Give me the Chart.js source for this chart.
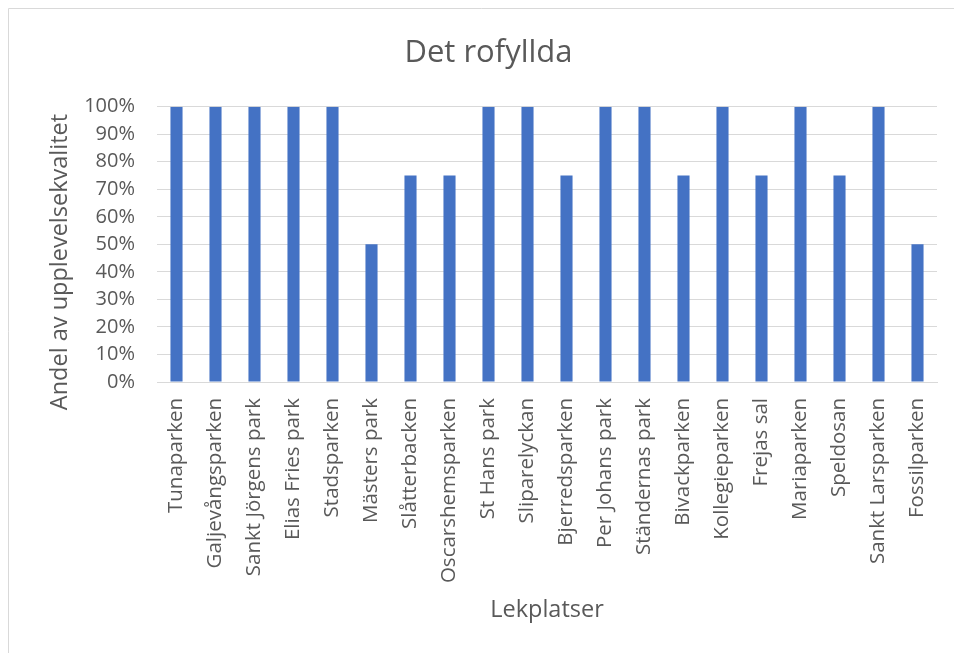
<!DOCTYPE html>
<html>
<head>
<meta charset="utf-8">
<script src="https://cdn.jsdelivr.net/npm/chart.js@4"></script>
<style>
  html, body { margin: 0; padding: 0; background: #fff; }
  #wrap { position: relative; width: 954px; height: 653px; }
</style>
</head>
<body>
<div id="wrap"><canvas id="chart"></canvas></div>
<script>
// data
const parks = [
    "Tunaparken", "Galjevångsparken", "Sankt Jörgens park", "Elias Fries park",
    "Stadsparken", "Mästers park", "Slåtterbacken", "Oscarshemsparken",
    "St Hans park", "Sliparelyckan", "Bjerredsparken", "Per Johans park",
    "Ständernas park", "Bivackparken", "Kollegieparken", "Frejas sal",
    "Mariaparken", "Speldosan", "Sankt Larsparken", "Fossilparken"
];
const shares = [100, 100, 100, 100, 100, 50, 75, 75, 100, 100, 75, 100, 100, 75, 100, 75, 100, 75, 100, 50];
const yTicks = [0, 10, 20, 30, 40, 50, 60, 70, 80, 90, 100];

const chartTitle = "Det rofyllda";
const xTitle = "Lekplatser";
const yTitle = "Andel av upplevelsekvalitet";

const textColor = "#595959";
const gridColor = "#d9d9d9";
const fontFamily = "'Open Sans', 'Noto Sans', sans-serif";

// outer chart border, open to the right and bottom like the cropped original
const frame = {
    id: "frame",
    beforeDraw(chart) {
        const ctx = chart.ctx;
        ctx.save();
        ctx.strokeStyle = gridColor;
        ctx.lineWidth = 1;
        ctx.beginPath();
        ctx.moveTo(8.5, 660);
        ctx.lineTo(8.5, 8.5);
        ctx.lineTo(960, 8.5);
        ctx.stroke();
        ctx.restore();
    }
};

// y axis title sits a little below the plot centre in the original
const yAxisTitle = {
    id: "yAxisTitle",
    afterDraw(chart) {
        const ctx = chart.ctx;
        ctx.save();
        ctx.translate(60, 262);
        ctx.rotate(-Math.PI / 2);
        ctx.fillStyle = textColor;
        ctx.font = "23.5px " + fontFamily;
        ctx.textAlign = "center";
        ctx.textBaseline = "middle";
        ctx.fillText(yTitle, 0, 0);
        ctx.restore();
    }
};

const ctx = document.getElementById("chart").getContext("2d");
new Chart(ctx, {
    type: "bar",
    data: {
        labels: parks,
        datasets: [{
            data: shares,
            backgroundColor: "#4472C4",
            borderWidth: 0,
            categoryPercentage: 1,
            barPercentage: 0.31
        }]
    },
    options: {
        responsive: true,
        maintainAspectRatio: false,
        animation: false,
        layout: { padding: { left: 40, right: 17, top: 0, bottom: 29 } },
        plugins: {
            legend: { display: false },
            tooltip: { enabled: false },
            title: {
                display: true,
                text: chartTitle,
                color: textColor,
                font: { family: fontFamily, size: 31, weight: "normal" },
                padding: { top: 35, bottom: 34.5 }
            }
        },
        scales: {
            x: {
                grid: { display: false, drawTicks: false },
                border: { color: gridColor, width: 1 },
                ticks: {
                    color: textColor,
                    font: { family: fontFamily, size: 20.5 },
                    minRotation: 90,
                    maxRotation: 90,
                    autoSkip: false,
                    padding: 16
                },
                title: {
                    display: true,
                    text: xTitle,
                    color: textColor,
                    font: { family: fontFamily, size: 23.5 },
                    padding: 0
                },
                afterFit(scale) {
                    scale.height = 242;
                    scale.paddingLeft = 0;
                    scale.paddingRight = 0;
                }
            },
            y: {
                min: 0,
                max: 100,
                afterBuildTicks(scale) { scale.ticks = yTicks.map(v => ({ value: v })); },
                grid: { color: gridColor, drawTicks: false },
                border: { display: false },
                ticks: {
                    color: textColor,
                    font: { family: fontFamily, size: 20 },
                    padding: 22,
                    callback: v => v + "%"
                },
                afterFit(scale) { scale.width = 117; }
            }
        }
    },
    plugins: [frame, yAxisTitle]
});
</script>
</body>
</html>
